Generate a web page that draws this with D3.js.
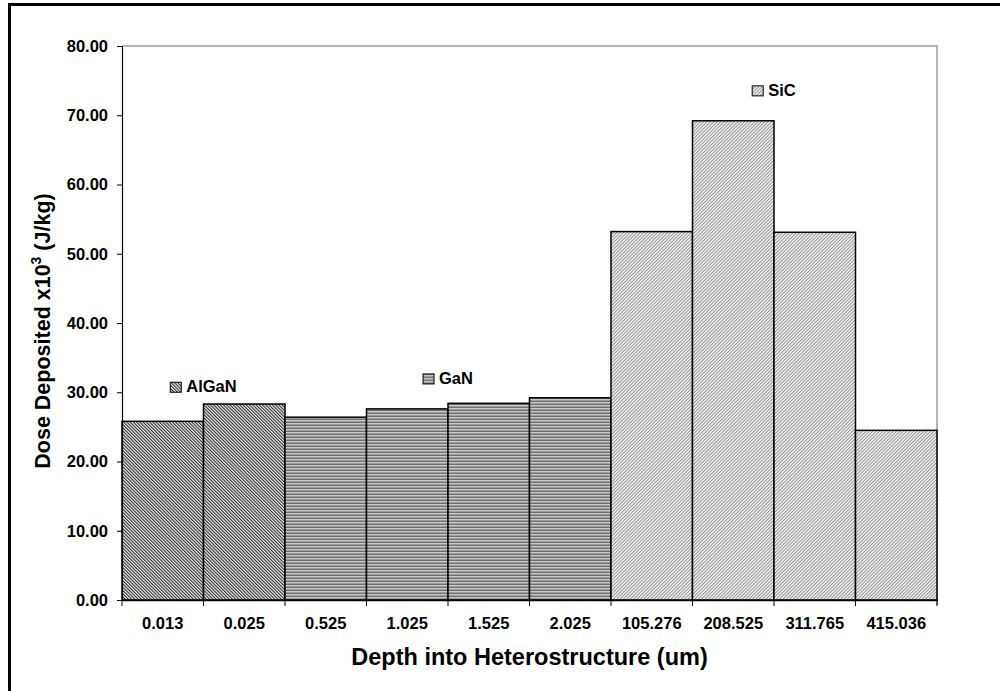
<!DOCTYPE html>
<html>
<head>
<meta charset="utf-8">
<script src="https://cdn.jsdelivr.net/npm/d3@7"></script>
<style>
  html, body { margin: 0; padding: 0; background: #fff; }
  svg { display: block; font-family: "Liberation Sans", Arial, sans-serif; }
</style>
</head>
<body>
<svg id="chart" width="1000" height="691"></svg>
<script>
// Depth positions (um) used as category labels
const depths = ["0.013", "0.025", "0.525", "1.025", "1.525", "2.025",
                "105.276", "208.525", "311.765", "415.036"];
// Dose deposited (x10^3 J/kg) for each depth
const dose = [25.8, 28.3, 26.4, 27.6, 28.4, 29.2, 53.2, 69.2, 53.1, 24.5];
// Layer of the heterostructure at each depth
const layer = ["AlGaN", "AlGaN", "GaN", "GaN", "GaN", "GaN", "SiC", "SiC", "SiC", "SiC"];
// Layer labels: the band edge they are centred on and their height in data units
const layers = ["AlGaN", "GaN", "SiC"];
const labelEdge = [1, 4, 8];
const labelValue = [30.0, 31.2, 72.8];
const yTicks = [0, 10, 20, 30, 40, 50, 60, 70, 80];

const svg = d3.select("#chart");
const margin = { left: 122, right: 63, top: 46, bottom: 91 };
const W = 1000, H = 691;
const FONT = "Liberation Sans, Arial, sans-serif";

// hatch fills
const defs = svg.append("defs");
function diag(id, bg, fg, size, sw, angle) {
  const p = defs.append("pattern").attr("id", id)
    .attr("patternUnits", "userSpaceOnUse")
    .attr("width", size).attr("height", size)
    .attr("patternTransform", `rotate(${angle})`);
  p.append("rect").attr("width", size).attr("height", size).attr("fill", bg);
  p.append("rect").attr("width", sw).attr("height", size).attr("fill", fg);
}
diag("fill-AlGaN", "#f4f4f4", "#2a2a2a", 2.3, 1.1, -45);
diag("fill-SiC", "#f6f6f6", "#8a8a8a", 2.4, 0.95, 45);
{
  const p = defs.append("pattern").attr("id", "fill-GaN")
    .attr("patternUnits", "userSpaceOnUse").attr("width", 4).attr("height", 3);
  p.append("rect").attr("width", 4).attr("height", 3).attr("fill", "#c8c8c8");
  p.append("rect").attr("y", 1.5).attr("width", 4).attr("height", 1.5).attr("fill", "#707070");
}

// outer frame
svg.append("rect").attr("x", 9.5).attr("y", 4.5).attr("width", 1000).attr("height", 700)
  .attr("fill", "none").attr("stroke", "#000").attr("stroke-width", 3);

const x = d3.scaleBand().domain(depths)
  .range([margin.left, W - margin.right]).paddingInner(0).paddingOuter(0);
const y = d3.scaleLinear().domain([0, 80]).range([H - margin.bottom, margin.top]);

// plot area border (top and right)
svg.append("path")
  .attr("d", `M${margin.left},${y(80)}H${W - margin.right}V${y(0) + 5}`)
  .attr("fill", "none").attr("stroke", "#b4b4b4").attr("stroke-width", 2);

// bars
svg.append("g").selectAll("rect").data(depths).join("rect")
  .attr("x", d => x(d))
  .attr("y", (d, i) => y(dose[i]))
  .attr("width", x.bandwidth())
  .attr("height", (d, i) => y(0) - y(dose[i]))
  .attr("fill", (d, i) => `url(#fill-${layer[i]})`)
  .attr("stroke", "#000").attr("stroke-width", 1.5);

// y axis
const yAxis = svg.append("g").attr("transform", `translate(${margin.left},0)`)
  .call(d3.axisLeft(y).tickValues(yTicks).tickFormat(d3.format(".2f")).tickSize(5).tickPadding(9));
yAxis.attr("font-size", null).attr("font-family", null);
yAxis.select(".domain").attr("stroke", "#000").attr("stroke-width", 1.2);
yAxis.selectAll(".tick line").attr("stroke", "#000");
yAxis.selectAll("text").style("font-size", "16.5px").style("font-weight", "bold")
  .style("font-family", FONT).attr("fill", "#000");

// x axis with ticks at band edges
const xAxis = svg.append("g").attr("transform", `translate(0,${y(0)})`)
  .call(d3.axisBottom(x).tickSize(0).tickPadding(0));
xAxis.attr("font-size", null).attr("font-family", null);
xAxis.select(".domain").attr("stroke", "#000").attr("stroke-width", 1.5);
xAxis.selectAll("text").attr("dy", null).attr("y", 29)
  .style("font-size", "16.5px").style("font-weight", "bold")
  .style("font-family", FONT).attr("fill", "#000");
const edges = depths.map(d => x(d)).concat([x(depths[depths.length - 1]) + x.bandwidth()]);
xAxis.selectAll(".edge").data(edges).join("line").attr("class", "edge")
  .attr("x1", d => d).attr("x2", d => d).attr("y1", 0).attr("y2", 6)
  .attr("stroke", "#000").attr("stroke-width", 1);

// layer labels with swatches, centred on a band edge
const lab = svg.append("g").selectAll("g").data(layers).join("g");
lab.append("rect").attr("x", 0).attr("y", -10).attr("width", 11).attr("height", 10)
  .attr("fill", d => `url(#fill-${d})`).attr("stroke", "#000").attr("stroke-width", 1);
lab.append("text").attr("x", 16).attr("y", 0)
  .style("font-size", "16.5px").style("font-weight", "bold").style("font-family", FONT)
  .text(d => d);
lab.attr("transform", function (d, i) {
  const w = this.getBBox().width;
  return `translate(${edges[labelEdge[i]] - w / 2},${y(labelValue[i])})`;
});

// axis titles
svg.append("text").attr("x", (margin.left + W - margin.right) / 2).attr("y", 665)
  .attr("text-anchor", "middle")
  .style("font-size", "23.5px").style("font-weight", "bold").style("font-family", FONT)
  .text("Depth into Heterostructure (um)");
const yt = svg.append("text")
  .attr("transform", `translate(50,331) rotate(-90)`)
  .attr("text-anchor", "middle")
  .style("font-size", "21.5px").style("font-weight", "bold").style("font-family", FONT);
yt.append("tspan").text("Dose Deposited x10");
yt.append("tspan").style("font-size", "14px").attr("dy", -9).text("3");
yt.append("tspan").attr("dy", 9).text(" (J/kg)");
</script>
</body>
</html>
